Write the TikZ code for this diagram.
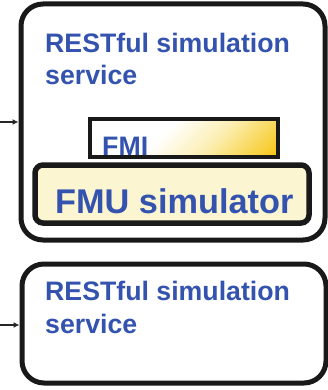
\documentclass[tikz,border=0pt]{standalone}
\usepackage{fontspec}
\setmainfont{Liberation Sans}
\usetikzlibrary{arrows.meta}
\definecolor{labelblue}{HTML}{3453AE}
\definecolor{fmupale}{HTML}{FCF5D2}
\definecolor{fmigold}{HTML}{F5C30A}
\definecolor{fmicream}{HTML}{FCEFB4}
% white on the left, warming to gold towards the lower right corner
\pgfdeclarehorizontalshading{fmiglow}{100bp}{color(0bp)=(white); color(42bp)=(white);
  color(60bp)=(fmicream); color(86bp)=(fmigold); color(100bp)=(fmigold)}
\tikzset{
  service/.style={draw=black!90, line width=5pt, rounded corners=22pt,
    inner sep=0pt, fill=white},
  fmubox/.style={draw=black!90, line width=5.5pt, rounded corners=8pt,
    inner sep=0pt, fill=fmupale},
  fmibox/.style={inner sep=0pt, shade, shading=fmiglow, shading angle=-45},
  fmiborder/.style={draw=black!90, line width=4pt},
  caption/.style={anchor=base west, inner sep=0pt, text=labelblue,
    font=\bfseries\fontsize{26.7}{32}\selectfont},
  bigcaption/.style={caption, font=\bfseries\fontsize{34.3}{40}\selectfont},
  feed/.style={draw=black!85, line width=1.5pt, -{Latex[length=6pt,width=6pt]}}
}
\begin{document}
\begin{tikzpicture}[x=1pt, y=-1pt]
  \useasboundingbox[fill=white] (0,0) rectangle (328,390);

  % upper service with the embedded FMU simulator
  \node[service, minimum width=304pt, minimum height=236pt] (svcA) at (173,122) {};
  \node[caption] (svcAtitle) at (45,53) {RESTful simulation};
  \node[caption] (svcAsub) at (45,85) {service};

  \node[fmibox, minimum width=188pt, minimum height=38pt] (fmi) at (184,138) {};
  \begin{scope}
    \clip (fmi.south west) rectangle (fmi.north east);
    \node[caption] (fmilabel) at (102,156) {FMI};
  \end{scope}
  \draw[fmiborder] (fmi.south west) rectangle (fmi.north east);

  \node[fmubox, minimum width=274pt, minimum height=58pt] (fmu) at (172,194) {};
  \node[bigcaption] (fmulabel) at (55,213) {FMU simulator};

  % lower service
  \node[service, minimum width=304pt, minimum height=119pt] (svcB) at (174,323.5) {};
  \node[caption] (svcBtitle) at (45,300) {RESTful simulation};
  \node[caption] (svcBsub) at (45,333) {service};

  % incoming requests
  \coordinate (inA) at (0,122);
  \coordinate (inB) at (0,325);
  \draw[feed] (inA) -- (inA -| svcA.west);
  \draw[feed] (inB) -- (inB -| svcB.west);
\end{tikzpicture}
\end{document}
